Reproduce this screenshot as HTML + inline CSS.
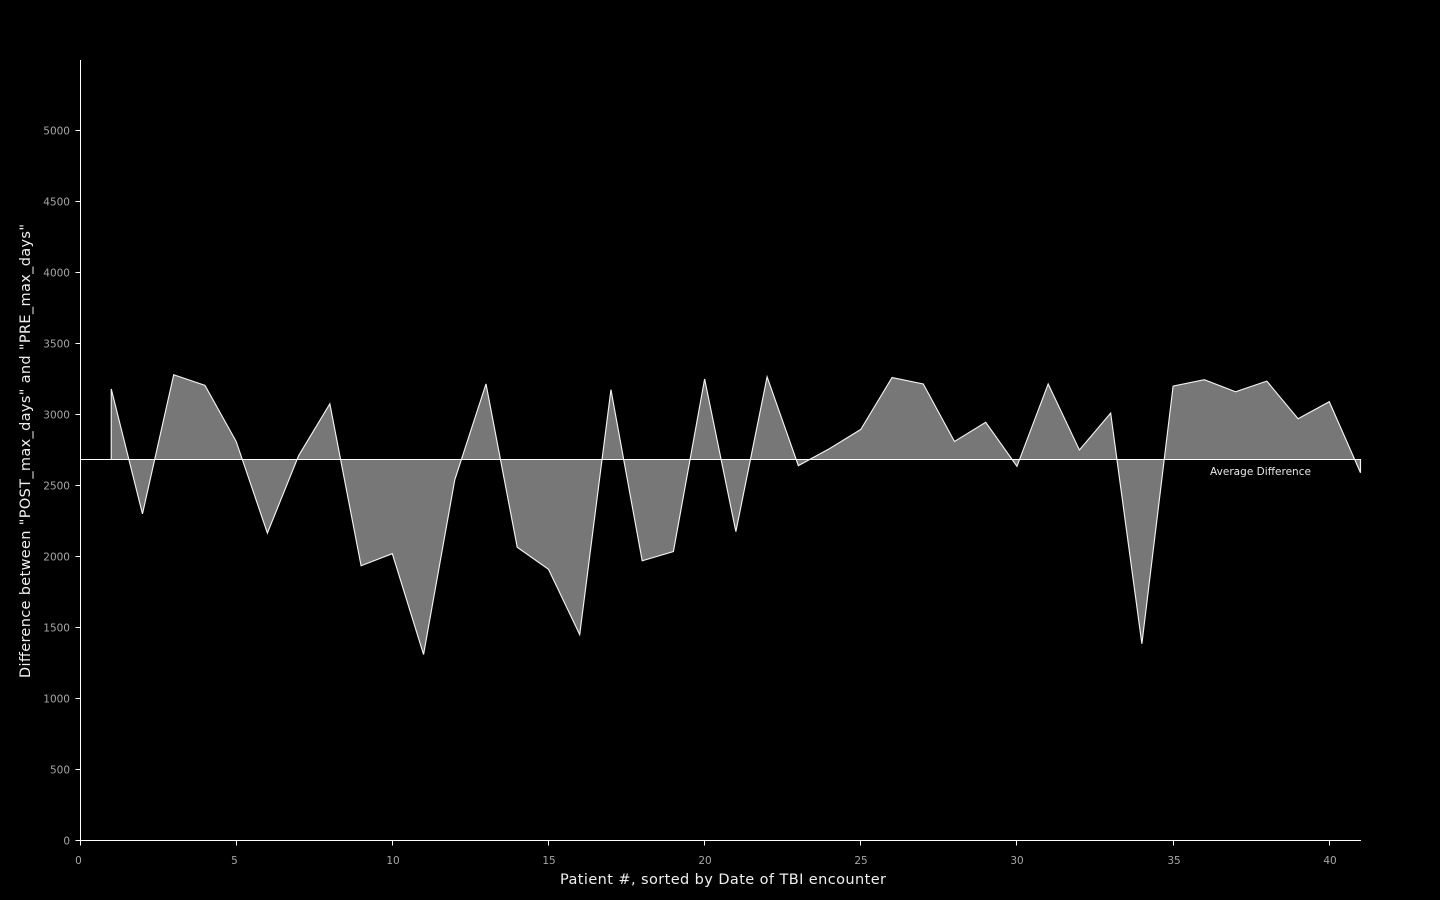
<!DOCTYPE html>
<html lang="en">
<head>
<meta charset="utf-8">
<title>Difference between POST_max_days and PRE_max_days</title>
<style>
html,body{margin:0;padding:0;background:#000;width:1440px;height:900px;overflow:hidden}
svg{display:block;position:absolute;left:0;top:0}
text{font-family:"DejaVu Sans","Liberation Sans",sans-serif}
.tick-label{font-size:10.5px;fill:#a6a6a6}
.axis-title{font-size:14.5px;fill:#f0f0f0}
.axis-line{stroke:#fff;stroke-width:1;fill:none;shape-rendering:crispEdges}
</style>
</head>
<body>
<svg id="chart" xmlns="http://www.w3.org/2000/svg" width="1440" height="900" viewBox="0 0 1440 900">
  <rect x="0" y="0" width="1440" height="900" fill="#000"/>
  <g id="area-layer"></g>
  <g id="axis-layer"></g>
  <text x="1210" y="475" font-size="10.5" fill="#e8e8e8" textLength="101" lengthAdjust="spacing">Average Difference</text>
  <text class="axis-title" x="560" y="884" textLength="326" lengthAdjust="spacing">Patient #, sorted by Date of TBI encounter</text>
  <text class="axis-title" transform="translate(30,678) rotate(-90)" x="0" y="0" textLength="454" lengthAdjust="spacing">Difference between "POST_max_days" and "PRE_max_days"</text>
</svg>
<script>
const patientNumbers = [1,2,3,4,5,6,7,8,9,10,11,12,13,14,15,16,17,18,19,20,21,22,23,24,25,26,27,28,29,30,31,32,33,34,35,36,37,38,39,40,41];
const differenceValues = [3180,2300,3280,3205,2810,2165,2710,3075,1935,2020,1310,2540,3215,2065,1910,1450,3175,1970,2035,3250,2175,3265,2640,2760,2895,3260,3215,2810,2945,2635,3215,2750,3010,1385,3200,3245,3160,3235,2970,3090,2590];
const averageDifference = 2683;
const xTickValues = [0,5,10,15,20,25,30,35,40];
const yTickValues = [0,500,1000,1500,2000,2500,3000,3500,4000,4500,5000];
const xDomain = [0,41];
const yDomain = [0,5500];

const NS = 'http://www.w3.org/2000/svg';
const plot = {left:80, right:1360.5, top:59.5, bottom:840.5};
function xScale(v){ return plot.left + (v - xDomain[0]) / (xDomain[1] - xDomain[0]) * (plot.right - plot.left); }
function yScale(v){ return plot.bottom - (v - yDomain[0]) / (yDomain[1] - yDomain[0]) * (plot.bottom - plot.top); }
function make(tag, attrs, parent){
  const el = document.createElementNS(NS, tag);
  for (const k in attrs) el.setAttribute(k, attrs[k]);
  parent.appendChild(el);
  return el;
}

const areaLayer = document.getElementById('area-layer');
const axisLayer = document.getElementById('axis-layer');

const baseY = Math.floor(yScale(averageDifference)) + 0.5;
const curvePts = patientNumbers.map((p,i) => xScale(p).toFixed(2) + ',' + yScale(differenceValues[i]).toFixed(2));
const firstX = xScale(patientNumbers[0]);
const lastX = xScale(patientNumbers[patientNumbers.length-1]);
const axisX = Math.floor(xScale(xDomain[0])) + 0.5;

const area = make('polygon', {points: firstX + ',' + baseY + ' ' + curvePts.join(' ') + ' ' + lastX + ',' + baseY, fill:'#777777', stroke:'none'}, areaLayer);



const curve = make('polyline', {points: firstX + ',' + baseY + ' ' + curvePts.join(' ') + ' ' + lastX + ',' + baseY, fill:'none', stroke:'#f2f2f2', 'stroke-width':1.15, 'stroke-linejoin':'miter'}, areaLayer);



const avgLine = make('line', {x1:axisX, x2:plot.right + 0.5, y1:baseY, y2:baseY, stroke:'#fff', 'stroke-width':1, 'shape-rendering':'crispEdges'}, areaLayer);



const yAxis = make('line', {class:'axis-line', x1:axisX, x2:axisX, y1:60, y2:plot.bottom}, axisLayer);



const xAxis = make('line', {class:'axis-line', x1:axisX, x2:plot.right + 0.5, y1:plot.bottom, y2:plot.bottom}, axisLayer);



xTickValues.forEach(v => {
  const x = Math.floor(xScale(v)) + 0.5;
  const tick = make('line', {class:'axis-line', x1:x, x2:x, y1:plot.bottom, y2:plot.bottom + 5}, axisLayer);
  
  
  const labelOffset = String(v).length > 1 ? 0.5 : -2;
  const label = make('text', {class:'tick-label', x:x + labelOffset, y:864, 'text-anchor':'middle'}, axisLayer);
  label.textContent = v;
  
  
});

yTickValues.forEach(v => {
  const y = Math.floor(yScale(v)) + 0.5;
  const tick = make('line', {class:'axis-line', x1:axisX - 5, x2:axisX, y1:y, y2:y}, axisLayer);
  
  
  const label = make('text', {class:'tick-label', x:70, y:y + 4, 'text-anchor':'end'}, axisLayer);
  label.textContent = v;
  
  
});
</script>
</body>
</html>
